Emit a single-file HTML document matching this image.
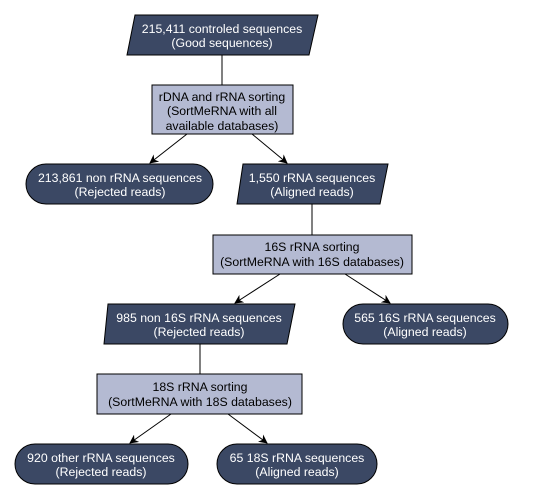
<!DOCTYPE html>
<html><head><style>html,body{margin:0;padding:0;background:#fff}svg{display:block}</style></head>
<body>
<svg width="546" height="500" viewBox="0 0 546 500" xmlns="http://www.w3.org/2000/svg" font-family="Liberation Sans, DejaVu Sans, sans-serif" font-size="12.3">
<defs><marker id="a" viewBox="0 0 10 10" refX="9" refY="5" markerWidth="9" markerHeight="9" orient="auto" markerUnits="userSpaceOnUse"><path d="M0,0 L10,5 L0,10 L3,5 z" fill="#000"/></marker></defs>
<g stroke="#000" stroke-width="1" fill="none">
<line x1="222" y1="55" x2="222" y2="85"/>
<line x1="312" y1="204" x2="312" y2="235"/>
<line x1="200" y1="344" x2="200" y2="374"/>
<line x1="187" y1="134" x2="150" y2="163" marker-end="url(#a)"/>
<line x1="252" y1="134" x2="287" y2="163" marker-end="url(#a)"/>
<line x1="280" y1="274" x2="235" y2="303" marker-end="url(#a)"/>
<line x1="345" y1="274" x2="390" y2="303" marker-end="url(#a)"/>
<line x1="171" y1="414" x2="130" y2="443" marker-end="url(#a)"/>
<line x1="228" y1="414" x2="267" y2="443" marker-end="url(#a)"/>
</g>
<g stroke="#000" stroke-width="1" fill="#3b4864">
<polygon points="135,15 318,15 309,55 127,55"/>
<rect x="26" y="164" width="187" height="40" rx="20"/>
<polygon points="243,164 388,164 380,204 237,204"/>
<polygon points="108,304 295,304 287,344 104,344"/>
<rect x="343" y="304" width="165" height="40" rx="20"/>
<rect x="15" y="444" width="173" height="40" rx="20"/>
<rect x="217" y="444" width="160" height="40" rx="20"/>
</g>
<g stroke="#000" stroke-width="1" fill="#b4bad2">
<rect x="152" y="85" width="141" height="49"/>
<rect x="213" y="235" width="199" height="39"/>
<rect x="97" y="374" width="205" height="40"/>
</g>
<g fill="#fff" text-anchor="middle">
<text x="222" y="33">215,411 controled sequences</text><text x="222" y="47">(Good sequences)</text>
<text x="120" y="182">213,861 non rRNA sequences</text><text x="120" y="196">(Rejected reads)</text>
<text x="312" y="182">1,550 rRNA sequences</text><text x="312" y="196">(Aligned reads)</text>
<text x="199" y="322">985 non 16S rRNA sequences</text><text x="199" y="336">(Rejected reads)</text>
<text x="425" y="322">565 16S rRNA sequences</text><text x="425" y="336">(Aligned reads)</text>
<text x="101" y="462">920 other rRNA sequences</text><text x="101" y="476">(Rejected reads)</text>
<text x="297" y="462">65 18S rRNA sequences</text><text x="297" y="476">(Aligned reads)</text>
</g>
<g fill="#000" text-anchor="middle">
<text x="222" y="101">rDNA and rRNA sorting</text><text x="222" y="115">(SortMeRNA with all</text><text x="222" y="130">available databases)</text>
<text x="312" y="251">16S rRNA sorting</text><text x="312" y="266">(SortMeRNA with 16S databases)</text>
<text x="200" y="391">18S rRNA sorting</text><text x="200" y="406">(SortMeRNA with 18S databases)</text>
</g>
</svg>
</body></html>
